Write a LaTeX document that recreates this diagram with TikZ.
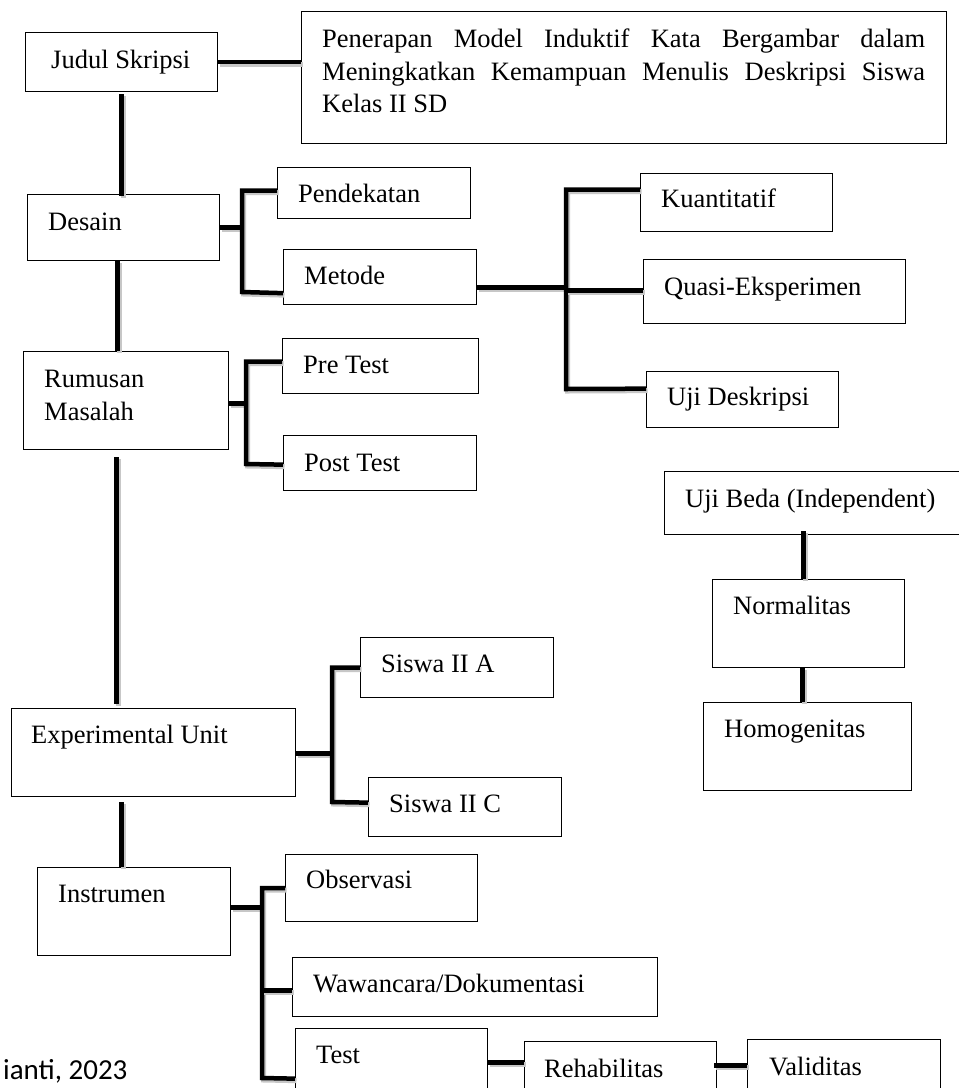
\documentclass[tikz,border=0pt]{standalone}
\usepackage{fontspec}
\setmainfont{Liberation Serif}
\newfontfamily\srcfont{Carlito}
\begin{document}
\begin{tikzpicture}[x=1pt,y=-1pt,
  box/.style={draw=black, line width=1.3pt, fill=white, inner sep=0pt, anchor=north west},
  txt/.style={inner sep=0pt, anchor=base west, font=\fontsize{26.5}{33}\selectfont},
  conn/.style={line width=4.5pt, line cap=butt, line join=miter,
    preaction={draw=black!22, line width=5pt, transform canvas={shift={(1.5pt,-2pt)}}}}]
\useasboundingbox (0,0) rectangle (959,1088);
\clip (0,0) rectangle (959,1088);
\fill[white] (0,0) rectangle (959,1088);

% boxes
\node[box, minimum width=192pt, minimum height=59pt] (judul) at (25,32) {};
\node[box, minimum width=645pt, minimum height=132pt] (title) at (301,11) {};
\node[box, minimum width=192pt, minimum height=66pt] (desain) at (27,194) {};
\node[box, minimum width=193pt, minimum height=51pt] (pend) at (277,167) {};
\node[box, minimum width=193pt, minimum height=55pt] (metode) at (283,249) {};
\node[box, minimum width=192pt, minimum height=58pt] (kuan) at (640,173) {};
\node[box, minimum width=262pt, minimum height=64pt] (quasi) at (643,259) {};
\node[box, minimum width=192pt, minimum height=56pt] (ujid) at (646,371) {};
\node[box, minimum width=205pt, minimum height=98pt] (rumusan) at (23,351) {};
\node[box, minimum width=196pt, minimum height=55pt] (pre) at (282,338) {};
\node[box, minimum width=193pt, minimum height=55pt] (post) at (283,435) {};
\node[box, minimum width=326pt, minimum height=63pt] (ujib) at (664,471) {};
\node[box, minimum width=192pt, minimum height=88pt] (norm) at (712,579) {};
\node[box, minimum width=208pt, minimum height=88pt] (homo) at (703,702) {};
\node[box, minimum width=284pt, minimum height=88pt] (exp) at (11,708) {};
\node[box, minimum width=193pt, minimum height=60pt] (siswaA) at (360,637) {};
\node[box, minimum width=193pt, minimum height=59pt] (siswaC) at (368,777) {};
\node[box, minimum width=193pt, minimum height=88pt] (instr) at (37,867) {};
\node[box, minimum width=192pt, minimum height=67pt] (obs) at (285,854) {};
\node[box, minimum width=365pt, minimum height=59pt] (waw) at (292,957) {};
\node[box, minimum width=192pt, minimum height=92pt] (test) at (295,1028) {};
\node[box, minimum width=192pt, minimum height=79pt] (rehab) at (524,1041) {};
\node[box, minimum width=193pt, minimum height=81pt] (valid) at (747,1039) {};

% texts
\node[txt] (tjudul) at (51,68) {Judul Skripsi};
\node[txt] (tt1) at (322,47) {\makebox[603pt][s]{Penerapan Model Induktif Kata Bergambar dalam}};
\node[txt] (tt2) at (322,80) {\makebox[603pt][s]{Meningkatkan Kemampuan Menulis Deskripsi Siswa}};
\node[txt] (tt3) at (322,112) {Kelas II SD};
\node[txt] (tdesain) at (48,230) {Desain};
\node[txt] (tpend) at (298,202) {Pendekatan};
\node[txt] (tmetode) at (304,284) {Metode};
\node[txt] (tkuan) at (661,207) {Kuantitatif};
\node[txt] (tquasi) at (664,295) {Quasi-Eksperimen};
\node[txt] (tujid) at (667,405) {Uji Deskripsi};
\node[txt] (trum1) at (44,387) {Rumusan};
\node[txt] (trum2) at (44,420) {Masalah};
\node[txt] (tpre) at (303,373) {Pre Test};
\node[txt] (tpost) at (304,471) {Post Test};
\node[txt] (tujib) at (685,507) {Uji Beda (Independent)};
\node[txt] (tnorm) at (733,614) {Normalitas};
\node[txt] (thomo) at (724,737) {Homogenitas};
\node[txt] (texp) at (31,743) {Experimental Unit};
\node[txt] (tsA) at (381,672) {Siswa II A};
\node[txt] (tsC) at (389,812) {Siswa II C};
\node[txt] (tinstr) at (58,902) {Instrumen};
\node[txt] (tobs) at (306,888) {Observasi};
\node[txt] (twaw) at (313,992) {Wawancara/Dokumentasi};
\node[txt] (ttest) at (316,1063) {Test};
\node[txt] (trehab) at (544,1077) {Rehabilitas};
\node[txt] (tvalid) at (769,1075) {Validitas};
\node[inner sep=0pt, anchor=base west, font=\srcfont\fontsize{29}{34}\selectfont] (src) at (3,1079) {ianti, 2023};

% spine connectors
\draw[conn] (judul.east) -- (judul.east -| title.west);
\draw[conn] ([yshift=-2pt]judul.south) -- ([yshift=-2pt]judul.south |- desain.north);
\draw[conn] ([xshift=-6pt]desain.south) -- ([xshift=-6pt]desain.south |- rumusan.north);
\draw[conn] ([xshift=-9.5pt,yshift=-7pt]rumusan.south) -- ([xshift=-9.5pt,yshift=4pt]rumusan.south |- exp.north);
\draw[conn] ([xshift=-32pt,yshift=-5pt]exp.south) -- ([xshift=-32pt]exp.south |- instr.north);

% branch: Desain
\coordinate (bD) at (242,292);
\draw[conn] (desain.east) -- (desain.east -| bD);
\draw[conn] ([yshift=2.5pt]pend.west) -| (bD) -- ([yshift=-16pt]metode.west);

% branch: Metode
\coordinate (bM) at (566,389);
\draw[conn] ([yshift=-10.5pt]metode.east) -- ([yshift=-10.5pt]metode.east -| bM);
\draw[conn] ([yshift=13pt]kuan.west) -| (bM) -- ([yshift=11pt]ujid.west);
\draw[conn] ([yshift=1pt]quasi.west) -- ([yshift=1pt]quasi.west -| bM);

% branch: Rumusan
\coordinate (bR) at (246,464);
\draw[conn] ([yshift=-3pt]rumusan.east) -- ([yshift=-3pt]rumusan.east -| bR);
\draw[conn] ([yshift=4.5pt]pre.west) -| (bR) -- ([yshift=-1.5pt]post.west);

% branch: Experimental Unit
\coordinate (bE) at (332,802);
\draw[conn] ([yshift=-1pt]exp.east) -- ([yshift=-1pt]exp.east -| bE);
\draw[conn] (siswaA.west) -| (bE) -- ([yshift=4.5pt]siswaC.west);

% branch: Instrumen
\coordinate (bI) at (262,1078);
\draw[conn] ([yshift=4pt]instr.east) -- ([yshift=4pt]instr.east -| bI);
\draw[conn] (obs.west) -| (bI) -- ([yshift=-4pt]test.west);
\draw[conn] ([yshift=-3.5pt]waw.west) -- ([yshift=-3.5pt]waw.west -| bI);

% Test chain
\draw[conn] ([yshift=12pt]test.east) -- ([yshift=12pt]test.east -| rehab.west);
\draw[conn] ([yshift=15.5pt,xshift=-3pt]rehab.east) -- ([yshift=15.5pt]rehab.east -| valid.west);

% Uji Beda chain
\draw[conn] ([xshift=-5pt]norm.north) -- ([xshift=-5pt,yshift=4pt]norm.north |- ujib.south);
\draw[conn] ([xshift=-5pt]homo.north) -- ([xshift=-5pt]homo.north |- norm.south);
\end{tikzpicture}
\end{document}
